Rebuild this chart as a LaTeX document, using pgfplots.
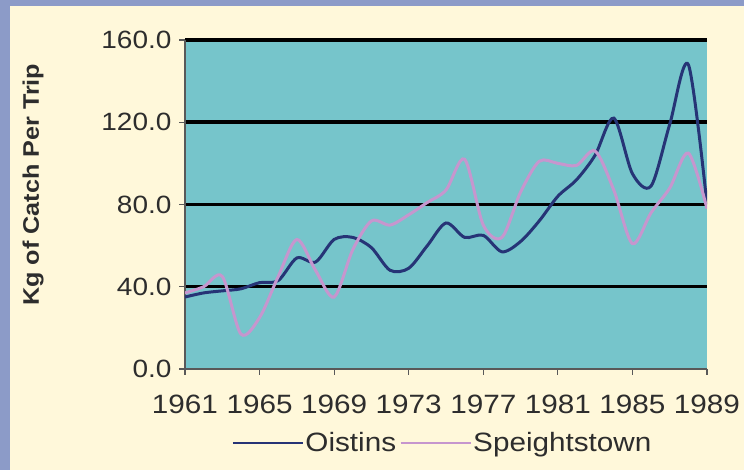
\documentclass[border=0pt]{standalone}
\usepackage{pgfplots}
\pgfplotsset{compat=1.18}
\usepackage{fontspec}
\setmainfont{Liberation Sans}
\newfontfamily\labfont[FakeStretch=1.12]{Liberation Sans}
\definecolor{frameblue}{RGB}{140,155,200}
\definecolor{cream}{RGB}{255,248,218}
\definecolor{plotteal}{RGB}{118,197,203}
\definecolor{oist}{RGB}{38,52,118}
\definecolor{speight}{RGB}{198,150,206}
\definecolor{txt}{RGB}{45,45,45}
\begin{document}
\begin{tikzpicture}[x=1pt,y=1pt]
\fill[frameblue] (0,0) rectangle (744,470);
\fill[cream] (10,0) rectangle (744,464);
\begin{axis}[
  at={(185pt,101pt)}, anchor=south west,
  scale only axis, width=522pt, height=329pt,
  xmin=1961, xmax=1989, ymin=0, ymax=160,
  axis background/.style={fill=plotteal},
  axis x line*=bottom, axis y line*=left,
  axis line style={draw=black!65, line width=1.2pt, -},
  xtick={1961,1965,...,1989},
  ytick={40,80,120,160},
  extra y ticks={0}, extra y tick style={grid=none},
  tick style={draw=black!65, line width=1.2pt},
  tick align=outside, major tick length=6pt,
  ymajorgrids, grid style={draw=black, line width=3.5pt},
  /pgf/number format/assume math mode=true,
  ticklabel style={font=\labfont\fontsize{25}{29}\selectfont, text=txt},
  yticklabel style={/pgf/number format/.cd, fixed, fixed zerofill, precision=1, /tikz/.cd, xshift=-4pt},
  xticklabel style={/pgf/number format/1000 sep={}, yshift=-16pt, font=\labfont\fontsize{26.5}{30}\selectfont},
  ylabel={Kg of Catch Per Trip},
  ylabel style={at={(axis description cs:-0.291,0.56)}, anchor=center,
    font=\labfont\bfseries\fontsize{22.5}{26}\selectfont, text=txt},
  legend style={at={(axis description cs:0.494,-0.225)}, anchor=center,
    draw=none, fill=none, legend columns=2,
    font=\labfont\fontsize{26.5}{30}\selectfont, text=txt,
    /tikz/every even column/.append style={column sep=2pt}},
  legend image code/.code={\draw[#1, line width=1.1pt] (0pt,0pt) -- (70pt,0pt);},
]
\addplot[oist, line width=3pt, smooth] coordinates {
(1961,35) (1962,37) (1963,38) (1964,39) (1965,42) (1966,43) (1967,54) (1968,52)
(1969,63) (1970,64) (1971,59) (1972,48) (1973,49) (1974,60) (1975,71) (1976,64)
(1977,65) (1978,57) (1979,62) (1980,72) (1981,84) (1982,92) (1983,104) (1984,122)
(1985,95) (1986,89) (1987,119) (1988,148) (1989,80)};
\addlegendentry{Oistins}
\addplot[speight, line width=3pt, smooth] coordinates {
(1961,37) (1962,40) (1963,45) (1964,17) (1965,25) (1966,45) (1967,63) (1968,48)
(1969,35) (1970,58) (1971,72) (1972,70) (1973,75) (1974,81) (1975,87) (1976,102)
(1977,70) (1978,64) (1979,86) (1980,101) (1981,100) (1982,99) (1983,106) (1984,87)
(1985,61) (1986,76) (1987,88) (1988,105) (1989,78)};
\addlegendentry{Speightstown}
\end{axis}
\end{tikzpicture}
\end{document}
